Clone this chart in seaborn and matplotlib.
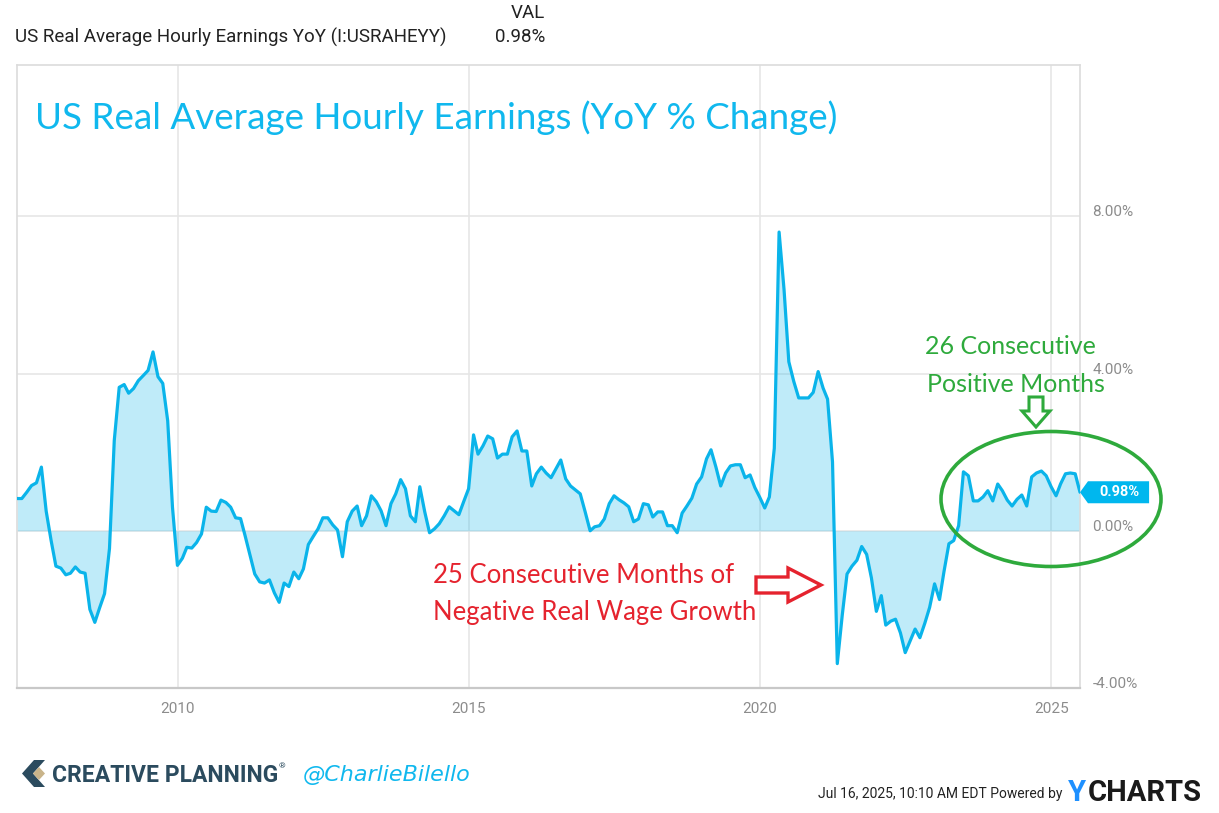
"""US real average hourly earnings, YoY % change (YCharts-style area chart)."""

import matplotlib.pyplot as plt
import matplotlib.patches as mpatches
import pandas as pd
import seaborn as sns

# monthly YoY % change, Mar 2007 .. Jun 2025
yoy_2007 = [0.82, 0.82, 0.98, 1.15, 1.22, 1.62, 0.50, -0.25, -0.90, -0.95]
yoy_2008 = [-1.12, -1.08, -0.92, -1.05, -1.08, -2.00, -2.33, -1.95, -1.60, -0.45, 2.30, 3.65]
yoy_2009 = [3.72, 3.50, 3.62, 3.82, 3.95, 4.08, 4.55, 3.92, 3.75, 2.80, 0.60, -0.88]
yoy_2010 = [-0.70, -0.42, -0.44, -0.30, -0.08, 0.60, 0.50, 0.49, 0.78, 0.72, 0.60, 0.33]
yoy_2011 = [0.31, -0.12, -0.62, -1.10, -1.30, -1.33, -1.25, -1.58, -1.82, -1.33, -1.42, -1.05]
yoy_2012 = [-1.22, -0.97, -0.35, -0.15, 0.05, 0.33, 0.33, 0.15, 0.02, -0.66, 0.23, 0.50]
yoy_2013 = [0.63, 0.13, 0.38, 0.89, 0.74, 0.51, 0.13, 0.69, 0.94, 1.30, 1.07, 0.38]
yoy_2014 = [0.23, 1.12, 0.48, -0.05, 0.05, 0.18, 0.38, 0.61, 0.51, 0.41, 0.74, 1.07]
yoy_2015 = [2.44, 1.95, 2.16, 2.41, 2.34, 1.85, 1.95, 1.95, 2.39, 2.54, 2.03, 2.03]
yoy_2016 = [1.14, 1.45, 1.62, 1.47, 1.35, 1.57, 1.80, 1.32, 1.14, 1.04, 0.94, 0.48]
yoy_2017 = [0.00, 0.10, 0.13, 0.30, 0.69, 0.89, 0.79, 0.71, 0.61, 0.23, 0.30, 0.69]
yoy_2018 = [0.66, 0.35, 0.48, 0.48, 0.13, 0.13, -0.05, 0.45, 0.63, 0.83, 1.19, 1.37]
yoy_2019 = [1.83, 2.06, 1.62, 1.14, 1.47, 1.65, 1.68, 1.68, 1.35, 1.42, 1.10, 0.85]
yoy_2020 = [0.58, 0.86, 2.10, 7.60, 6.14, 4.30, 3.80, 3.38, 3.38, 3.38, 3.52, 4.05]
yoy_2021 = [3.63, 3.35, 1.75, -3.38, -2.15, -1.10, -0.90, -0.75, -0.40, -0.60, -1.20, -2.05]
yoy_2022 = [-1.65, -2.40, -2.30, -2.25, -2.60, -3.10, -2.80, -2.50, -2.72, -2.35, -1.95, -1.35]
yoy_2023 = [-1.75, -1.04, -0.33, -0.25, 0.13, 1.50, 1.40, 0.76, 0.76, 0.86, 1.02, 0.76]
yoy_2024 = [1.19, 1.02, 0.78, 0.63, 0.80, 0.91, 0.63, 1.37, 1.47, 1.52, 1.40, 1.12]
yoy_2025 = [0.89, 1.19, 1.45, 1.47, 1.45, 0.98]

year_ticks = ["2010", "2015", "2020", "2025"]
pct_ticks = [-4, 0, 4, 8]
last_value = yoy_2025[-1]

LINE = "#0AB4EA"
TEXT_GREY = "#8c8c8c"
GRID = "#e6e6e6"
RED = "#E5232E"
GREEN = "#2EAA3C"
HAND = ["Lato", "DejaVu Sans"]
W, H = 1219, 813

values = (yoy_2007 + yoy_2008 + yoy_2009 + yoy_2010 + yoy_2011 + yoy_2012 + yoy_2013
          + yoy_2014 + yoy_2015 + yoy_2016 + yoy_2017 + yoy_2018 + yoy_2019 + yoy_2020
          + yoy_2021 + yoy_2022 + yoy_2023 + yoy_2024 + yoy_2025)
dates = pd.date_range("2007-03-31", periods=len(values), freq="ME")
df = pd.DataFrame({"date": dates, "yoy": values})

sns.set_theme(style="white")
plt.rcParams["font.family"] = ["Roboto", "DejaVu Sans"]

fig = plt.figure(figsize=(W / 100, H / 100), dpi=100)
ax = fig.add_axes([17 / W, 1 - 688 / H, (1080 - 17) / W, (688 - 65) / H])

ax.fill_between(df["date"], df["yoy"], 0, color=LINE, alpha=0.26, lw=0, zorder=2)
sns.lineplot(data=df, x="date", y="yoy", ax=ax, color=LINE, lw=2.3, zorder=3)

ax.set_xlim(dates[0], dates[-1])
ax.set_ylim(-4, 11.85)
ax.set_xlabel("")
ax.set_ylabel("")

ax.set_xticks(pd.to_datetime([f"{y}-01-01" for y in year_ticks]))
ax.set_xticklabels(year_ticks)
ax.yaxis.tick_right()
ax.set_yticks(pct_ticks)
ax.set_yticklabels([f"{v:.2f}%" for v in pct_ticks])
for lbl in ax.get_yticklabels():
    lbl.set_verticalalignment("baseline")
ax.tick_params(axis="both", length=0, colors=TEXT_GREY, labelsize=11)
ax.tick_params(axis="x", pad=10)
ax.tick_params(axis="y", pad=9)

ax.grid(True, color=GRID, lw=1.2, zorder=0)
ax.set_axisbelow(True)
for side in ["left", "top", "right"]:
    ax.spines[side].set_color("#dcdcdc")
    ax.spines[side].set_linewidth(1.2)
ax.spines["bottom"].set_color("#c8c8c8")
ax.spines["bottom"].set_linewidth(1.6)

# value badge at the right edge
y_half = 0.28
badge = mpatches.Polygon(
    [(1.0, last_value), (1.0075, last_value + y_half), (1.065, last_value + y_half),
     (1.065, last_value - y_half), (1.0075, last_value - y_half)],
    closed=True, transform=ax.get_yaxis_transform(), clip_on=False,
    facecolor="#00B7EE", edgecolor="none", zorder=6,
)
ax.add_patch(badge)
ax.text(1.037, last_value, f"{last_value:.2f}%", transform=ax.get_yaxis_transform(),
        ha="center", va="center", color="white", fontsize=10.5, fontweight="bold",
        clip_on=False, zorder=7)

# overlay in pixel coordinates for headers, notes and footer
ov = fig.add_axes([0, 0, 1, 1], zorder=5)
ov.set_xlim(0, W)
ov.set_ylim(H, 0)
ov.axis("off")

ov.text(15, 37, "US Real Average Hourly Earnings YoY (I:USRAHEYY)", fontsize=13.5,
        color="#222222", va="center", ha="left")
ov.text(545, 13, "VAL", fontsize=13.5, color="#222222", va="center", ha="right")
ov.text(545, 37, f"{last_value:.2f}%", fontsize=13.5, color="#222222", va="center", ha="right")

ov.text(35, 118, "US Real Average Hourly Earnings (YoY % Change)", fontsize=26.5,
        color="#10B8EE", va="center", ha="left", family=HAND)

# red note and arrow
ov.text(433, 575, "25 Consecutive Months of", fontsize=18.5, color=RED,
        va="center", ha="left", family=HAND)
ov.text(433, 612, "Negative Real Wage Growth", fontsize=18.5, color=RED,
        va="center", ha="left", family=HAND)
ov.add_patch(mpatches.Polygon(
    [(756, 577), (788, 577), (788, 568), (821, 585), (788, 602), (788, 593), (756, 593)],
    closed=True, facecolor="white", edgecolor=RED, lw=2.4, zorder=8))

# green note, arrow and ellipse
ov.text(925, 346, "26 Consecutive", fontsize=18, color=GREEN,
        va="center", ha="left", family=HAND)
ov.text(927, 384, "Positive Months", fontsize=18, color=GREEN,
        va="center", ha="left", family=HAND)
ov.add_patch(mpatches.Polygon(
    [(1029, 397), (1043, 397), (1043, 411), (1050, 411), (1036, 427), (1022, 411), (1029, 411)],
    closed=True, facecolor="white", edgecolor=GREEN, lw=2.2, zorder=8))
ov.add_patch(mpatches.Ellipse((1051, 499), 220, 135, facecolor="none",
                              edgecolor=GREEN, lw=2.6, zorder=8))

# footer
ov.add_patch(mpatches.Polygon(
    [(34, 760), (45, 760), (33, 773.5), (45, 787), (34, 787), (22, 773.5)],
    closed=True, facecolor="#2B4B5E", edgecolor="none"))
ov.add_patch(mpatches.Polygon(
    [(39, 767), (45, 773.5), (39, 780), (33, 773.5)],
    closed=True, facecolor="#C9B48A", edgecolor="none"))
ov.text(52, 775, "CREATIVE PLANNING", fontsize=16.5, fontweight="bold", color="#2B4B5E",
        va="center", ha="left")
ov.text(279, 766, "®", fontsize=6, color="#2B4B5E", va="center", ha="left")
ov.text(303, 775, "@CharlieBilello", fontsize=16, color="#10B8EE", style="italic",
        va="center", ha="left", family=["DejaVu Sans"])
ov.text(1062, 794, "Jul 16, 2025, 10:10 AM EDT Powered by", fontsize=10, color="#222222",
        va="center", ha="right")
ov.text(1068, 793, "Y", fontsize=21, fontweight="bold", color="#1E90FF", va="center", ha="left")
ov.text(1088, 793, "CHARTS", fontsize=21, fontweight="bold", color="#1a1a1a", va="center", ha="left")

fig.savefig("out.png", dpi=100)
plt.close(fig)
